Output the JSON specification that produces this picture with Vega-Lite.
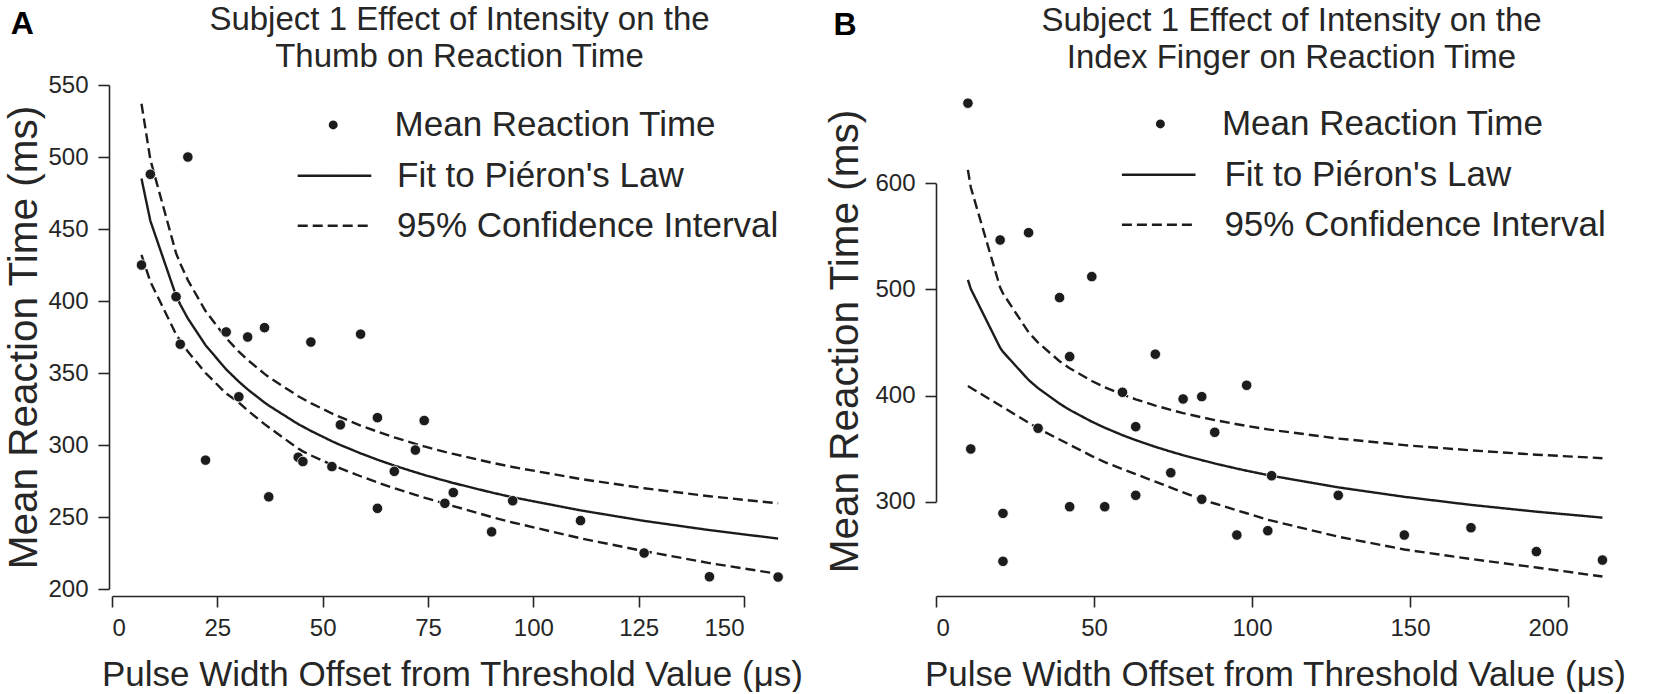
{
  "$schema": "https://vega.github.io/schema/vega-lite/v6.json",
  "background": "white",
  "padding": {"left": 4, "top": 4, "right": 0, "bottom": 0},
  "spacing": 22,
  "resolve": {
    "scale": {"strokeDash": "independent", "shape": "independent"},
    "legend": {"strokeDash": "independent", "shape": "independent"}
  },
  "config": {
    "font": "Liberation Sans",
    "view": {"stroke": null},
    "axis": {
      "grid": false,
      "domainColor": "#262626",
      "domainWidth": 1.6,
      "tickColor": "#262626",
      "tickWidth": 1.6,
      "tickSize": 11,
      "labelFont": "Liberation Sans",
      "labelFontSize": 24,
      "labelColor": "#262626",
      "labelPadding": 9,
      "titleFont": "Liberation Sans",
      "titleFontSize": 35,
      "titleFontWeight": "normal",
      "titleColor": "#262626"
    },
    "axisY": {"labelPadding": 10, "titleFontSize": 40.5},
    "axisX": {"titlePadding": 17},
    "title": {
      "font": "Liberation Sans",
      "fontSize": 33,
      "fontWeight": "normal",
      "color": "#262626",
      "lineHeight": 37,
      "anchor": "middle",
      "frame": "group"
    },
    "legend": {
      "title": null,
      "orient": "none",
      "padding": 0,
      "labelFont": "Liberation Sans",
      "labelFontSize": 35,
      "labelColor": "#262626",
      "labelLimit": 0,
      "rowPadding": 14
    }
  },
  "datasets": {
    "ptsA": [
      {"x": 7.0, "rt": 425}, {"x": 9.1, "rt": 488}, {"x": 15.2, "rt": 403},
      {"x": 16.2, "rt": 370}, {"x": 18.0, "rt": 500}, {"x": 22.2, "rt": 289.5},
      {"x": 27.1, "rt": 378.5}, {"x": 30.1, "rt": 333.5}, {"x": 32.2, "rt": 375},
      {"x": 36.2, "rt": 381.5}, {"x": 37.2, "rt": 264}, {"x": 44.2, "rt": 291.5},
      {"x": 45.3, "rt": 288.5}, {"x": 47.2, "rt": 371.5}, {"x": 52.2, "rt": 285},
      {"x": 54.2, "rt": 314}, {"x": 59.0, "rt": 377}, {"x": 63.0, "rt": 319},
      {"x": 63.0, "rt": 256}, {"x": 67.0, "rt": 281.7}, {"x": 72.0, "rt": 296.5},
      {"x": 74.1, "rt": 317}, {"x": 79.0, "rt": 259.5}, {"x": 81.0, "rt": 267},
      {"x": 90.1, "rt": 239.7}, {"x": 95.1, "rt": 261.3}, {"x": 111.2, "rt": 247.5},
      {"x": 126.3, "rt": 225}, {"x": 141.8, "rt": 208.5}, {"x": 158.1, "rt": 208.3}
    ],
    "fitA": [
      {"x": 7.0, "fit": 485.0, "hi": 537.0, "lo": 432.0},
      {"x": 9.1, "fit": 455.7, "hi": 498.2, "lo": 413.4},
      {"x": 15.2, "fit": 403.7, "hi": 433.2, "lo": 376.9},
      {"x": 16.2, "fit": 397.6, "hi": 426.0, "lo": 372.4},
      {"x": 18.0, "fit": 387.9, "hi": 414.5, "lo": 364.9},
      {"x": 22.2, "fit": 369.3, "hi": 393.0, "lo": 350.0},
      {"x": 27.1, "fit": 352.5, "hi": 374.2, "lo": 335.8},
      {"x": 30.1, "fit": 344.0, "hi": 364.9, "lo": 329.5},
      {"x": 32.2, "fit": 338.6, "hi": 359.1, "lo": 324.0},
      {"x": 36.2, "fit": 329.5, "hi": 349.4, "lo": 314.5},
      {"x": 37.2, "fit": 327.4, "hi": 347.2, "lo": 312.3},
      {"x": 44.2, "fit": 314.5, "hi": 333.9, "lo": 297.5},
      {"x": 45.3, "fit": 312.8, "hi": 332.1, "lo": 295.6},
      {"x": 47.2, "fit": 309.8, "hi": 329.1, "lo": 292.8},
      {"x": 52.2, "fit": 302.6, "hi": 321.9, "lo": 286.2},
      {"x": 54.2, "fit": 300.0, "hi": 319.3, "lo": 283.8},
      {"x": 59.0, "fit": 294.2, "hi": 313.5, "lo": 278.3},
      {"x": 63.0, "fit": 289.8, "hi": 309.3, "lo": 274.0},
      {"x": 67.0, "fit": 285.7, "hi": 305.3, "lo": 270.0},
      {"x": 72.0, "fit": 281.1, "hi": 300.8, "lo": 265.4},
      {"x": 74.1, "fit": 279.2, "hi": 299.0, "lo": 263.5},
      {"x": 79.0, "fit": 275.2, "hi": 295.2, "lo": 259.3},
      {"x": 81.0, "fit": 273.6, "hi": 293.8, "lo": 257.6},
      {"x": 90.1, "fit": 267.0, "hi": 287.7, "lo": 250.0},
      {"x": 95.1, "fit": 263.7, "hi": 284.7, "lo": 246.2},
      {"x": 111.2, "fit": 254.6, "hi": 276.4, "lo": 235.2},
      {"x": 126.3, "fit": 247.3, "hi": 270.0, "lo": 226.3},
      {"x": 141.8, "fit": 240.9, "hi": 264.4, "lo": 218.0},
      {"x": 158.1, "fit": 235.0, "hi": 259.5, "lo": 210.5}
    ],
    "ptsB": [
      {"x": 10.1, "rt": 675.5}, {"x": 11.0, "rt": 349.7}, {"x": 20.3, "rt": 546.6},
      {"x": 21.2, "rt": 289}, {"x": 21.2, "rt": 243.8}, {"x": 29.3, "rt": 553.5},
      {"x": 32.3, "rt": 369.2}, {"x": 39.1, "rt": 492.3}, {"x": 42.3, "rt": 436.7},
      {"x": 42.3, "rt": 295.3}, {"x": 49.3, "rt": 512.1}, {"x": 53.4, "rt": 295.3},
      {"x": 59.0, "rt": 403.1}, {"x": 63.2, "rt": 370.7}, {"x": 63.2, "rt": 306},
      {"x": 69.4, "rt": 439}, {"x": 74.3, "rt": 327.3}, {"x": 78.2, "rt": 396.8},
      {"x": 84.1, "rt": 399}, {"x": 84.1, "rt": 302.3}, {"x": 88.2, "rt": 365.4},
      {"x": 95.2, "rt": 268.6}, {"x": 98.3, "rt": 409.7}, {"x": 105.0, "rt": 272.7},
      {"x": 106.2, "rt": 324.5}, {"x": 127.3, "rt": 306}, {"x": 148.2, "rt": 268.6},
      {"x": 169.3, "rt": 275.5}, {"x": 190.0, "rt": 253}, {"x": 210.9, "rt": 245}
    ],
    "fitB": [
      {"x": 10.1, "fit": 509.0, "hi": 612.6, "lo": 409.0},
      {"x": 11.0, "fit": 500.6, "hi": 596.3, "lo": 407.4},
      {"x": 20.3, "fit": 445.0, "hi": 501.7, "lo": 390.6},
      {"x": 21.2, "fit": 441.2, "hi": 496.2, "lo": 389.0},
      {"x": 29.3, "fit": 414.7, "hi": 459.6, "lo": 374.4},
      {"x": 32.3, "fit": 407.0, "hi": 449.9, "lo": 369.0},
      {"x": 39.1, "fit": 392.4, "hi": 432.4, "lo": 358.6},
      {"x": 42.3, "fit": 386.5, "hi": 425.8, "lo": 353.7},
      {"x": 49.3, "fit": 375.4, "hi": 413.7, "lo": 343.0},
      {"x": 53.4, "fit": 369.7, "hi": 407.9, "lo": 337.3},
      {"x": 59.0, "fit": 362.7, "hi": 401.0, "lo": 330.8},
      {"x": 63.2, "fit": 358.0, "hi": 396.5, "lo": 326.0},
      {"x": 69.4, "fit": 351.7, "hi": 390.6, "lo": 318.9},
      {"x": 74.3, "fit": 347.2, "hi": 386.5, "lo": 313.3},
      {"x": 78.2, "fit": 343.8, "hi": 383.5, "lo": 308.8},
      {"x": 84.1, "fit": 339.1, "hi": 379.5, "lo": 302.0},
      {"x": 88.2, "fit": 336.0, "hi": 376.9, "lo": 298.3},
      {"x": 95.2, "fit": 331.2, "hi": 373.0, "lo": 291.9},
      {"x": 98.3, "fit": 329.2, "hi": 371.4, "lo": 289.1},
      {"x": 105.0, "fit": 325.1, "hi": 368.2, "lo": 283.0},
      {"x": 106.2, "fit": 324.4, "hi": 367.7, "lo": 282.1},
      {"x": 127.3, "fit": 313.5, "hi": 359.5, "lo": 267.0},
      {"x": 148.2, "fit": 304.6, "hi": 353.3, "lo": 255.0},
      {"x": 169.3, "fit": 297.0, "hi": 348.4, "lo": 246.0},
      {"x": 190.0, "fit": 290.6, "hi": 344.3, "lo": 238.0},
      {"x": 210.9, "fit": 285.0, "hi": 341.0, "lo": 229.5}
    ],
    "labelA": [{"label": "A"}],
    "labelB": [{"label": "B"}]
  },
  "hconcat": [
    {
      "width": 632,
      "height": 504,
      "title": {"text": ["Subject 1 Effect of Intensity on the", "Thumb on Reaction Time"], "dx": 31.5, "offset": -66},
      "layer": [
        {
          "data": {"name": "fitA"},
          "mark": {"type": "line", "color": "#1c1c1c", "strokeWidth": 2.4},
          "encoding": {
            "x": {"field": "x", "type": "quantitative", "title": "Pulse Width Offset from Threshold Value (μs)",
                  "scale": {"domain": [0, 150], "nice": false, "zero": false},
                  "axis": {"values": [0, 25, 50, 75, 100, 125, 150], "offset": 7, "titleX": 340}},
            "y": {"field": "fit", "type": "quantitative", "title": "Mean Reaction Time (ms)",
                  "scale": {"domain": [200, 550], "nice": false, "zero": false},
                  "axis": {"values": [200, 250, 300, 350, 400, 450, 500, 550], "offset": 3, "titlePadding": 2}},
            "strokeDash": {
              "datum": "Fit to Piéron's Law", "type": "nominal",
              "scale": {"domain": ["Fit to Piéron's Law", "95% Confidence Interval"], "range": [[1, 0], [10, 5]]},
              "legend": {"legendX": 205, "legendY": 73.2, "symbolType": "M-9.2,0H9.2", "symbolSize": 64, "symbolStrokeWidth": 2.4, "labelOffset": 45}
            }
          }
        },
        {
          "data": {"name": "fitA"},
          "mark": {"type": "line", "color": "#1c1c1c", "strokeWidth": 2.4},
          "encoding": {
            "x": {"field": "x", "type": "quantitative", "title": "Pulse Width Offset from Threshold Value (μs)"},
            "y": {"field": "hi", "type": "quantitative", "title": "Mean Reaction Time (ms)"},
            "strokeDash": {"datum": "95% Confidence Interval", "type": "nominal"}
          }
        },
        {
          "data": {"name": "fitA"},
          "mark": {"type": "line", "color": "#1c1c1c", "strokeWidth": 2.4},
          "encoding": {
            "x": {"field": "x", "type": "quantitative", "title": "Pulse Width Offset from Threshold Value (μs)"},
            "y": {"field": "lo", "type": "quantitative", "title": "Mean Reaction Time (ms)"},
            "strokeDash": {"datum": "95% Confidence Interval", "type": "nominal"}
          }
        },
        {
          "data": {"name": "ptsA"},
          "mark": {"type": "point", "filled": true, "size": 110, "opacity": 1, "color": "#1c1c1c", "stroke": "white", "strokeWidth": 0.8},
          "encoding": {
            "x": {"field": "x", "type": "quantitative", "title": "Pulse Width Offset from Threshold Value (μs)"},
            "y": {"field": "rt", "type": "quantitative", "title": "Mean Reaction Time (ms)"},
            "shape": {
              "datum": "Mean Reaction Time", "type": "nominal",
              "scale": {"domain": ["Mean Reaction Time"], "range": ["circle"]},
              "legend": {"legendX": 203.7, "legendY": 22.4, "symbolSize": 110, "labelOffset": 43.85}
            }
          }
        },
        {
          "data": {"name": "labelA"},
          "mark": {"type": "text", "fontSize": 32, "fontWeight": "bold", "color": "black", "align": "center", "baseline": "alphabetic"},
          "encoding": {
            "text": {"field": "label"},
            "x": {"datum": -21.3, "type": "quantitative"},
            "y": {"datum": 585.1, "type": "quantitative"}
          }
        }
      ]
    },
    {
      "width": 632,
      "height": 504,
      "title": {"text": ["Subject 1 Effect of Intensity on the", "Index Finger on Reaction Time"], "dx": 39.5, "offset": -66},
      "layer": [
        {
          "data": {"name": "fitB"},
          "mark": {"type": "line", "color": "#1c1c1c", "strokeWidth": 2.4},
          "encoding": {
            "x": {"field": "x", "type": "quantitative", "title": "Pulse Width Offset from Threshold Value (μs)",
                  "scale": {"domain": [0, 200], "nice": false, "zero": false},
                  "axis": {"values": [0, 50, 100, 150, 200], "offset": 7, "titleX": 339}},
            "y": {"field": "fit", "type": "quantitative", "title": "Mean Reaction Time (ms)",
                  "scale": {"domain": [300, 600], "range": [416.7, 98.3], "nice": false, "zero": false},
                  "axis": {"values": [300, 400, 500, 600], "offset": 0, "titleY": 256, "titlePadding": 8}},
            "strokeDash": {
              "datum": "Fit to Piéron's Law", "type": "nominal",
              "scale": {"domain": ["Fit to Piéron's Law", "95% Confidence Interval"], "range": [[1, 0], [10, 5]]},
              "legend": {"legendX": 205.2, "legendY": 72.2, "symbolType": "M-9.2,0H9.2", "symbolSize": 64, "symbolStrokeWidth": 2.4, "labelOffset": 48.2}
            }
          }
        },
        {
          "data": {"name": "fitB"},
          "mark": {"type": "line", "color": "#1c1c1c", "strokeWidth": 2.4},
          "encoding": {
            "x": {"field": "x", "type": "quantitative", "title": "Pulse Width Offset from Threshold Value (μs)"},
            "y": {"field": "hi", "type": "quantitative", "title": "Mean Reaction Time (ms)"},
            "strokeDash": {"datum": "95% Confidence Interval", "type": "nominal"}
          }
        },
        {
          "data": {"name": "fitB"},
          "mark": {"type": "line", "color": "#1c1c1c", "strokeWidth": 2.4},
          "encoding": {
            "x": {"field": "x", "type": "quantitative", "title": "Pulse Width Offset from Threshold Value (μs)"},
            "y": {"field": "lo", "type": "quantitative", "title": "Mean Reaction Time (ms)"},
            "strokeDash": {"datum": "95% Confidence Interval", "type": "nominal"}
          }
        },
        {
          "data": {"name": "ptsB"},
          "mark": {"type": "point", "filled": true, "size": 110, "opacity": 1, "color": "#1c1c1c", "stroke": "white", "strokeWidth": 0.8},
          "encoding": {
            "x": {"field": "x", "type": "quantitative", "title": "Pulse Width Offset from Threshold Value (μs)"},
            "y": {"field": "rt", "type": "quantitative", "title": "Mean Reaction Time (ms)"},
            "shape": {
              "datum": "Mean Reaction Time", "type": "nominal",
              "scale": {"domain": ["Mean Reaction Time"], "range": ["circle"]},
              "legend": {"legendX": 206.9, "legendY": 21.4, "symbolSize": 110, "labelOffset": 44.05}
            }
          }
        },
        {
          "data": {"name": "labelB"},
          "mark": {"type": "text", "fontSize": 32, "fontWeight": "bold", "color": "black", "align": "center", "baseline": "alphabetic"},
          "encoding": {
            "text": {"field": "label"},
            "x": {"datum": -28.8, "type": "quantitative"},
            "y": {"datum": 740.2, "type": "quantitative"}
          }
        }
      ]
    }
  ]
}
